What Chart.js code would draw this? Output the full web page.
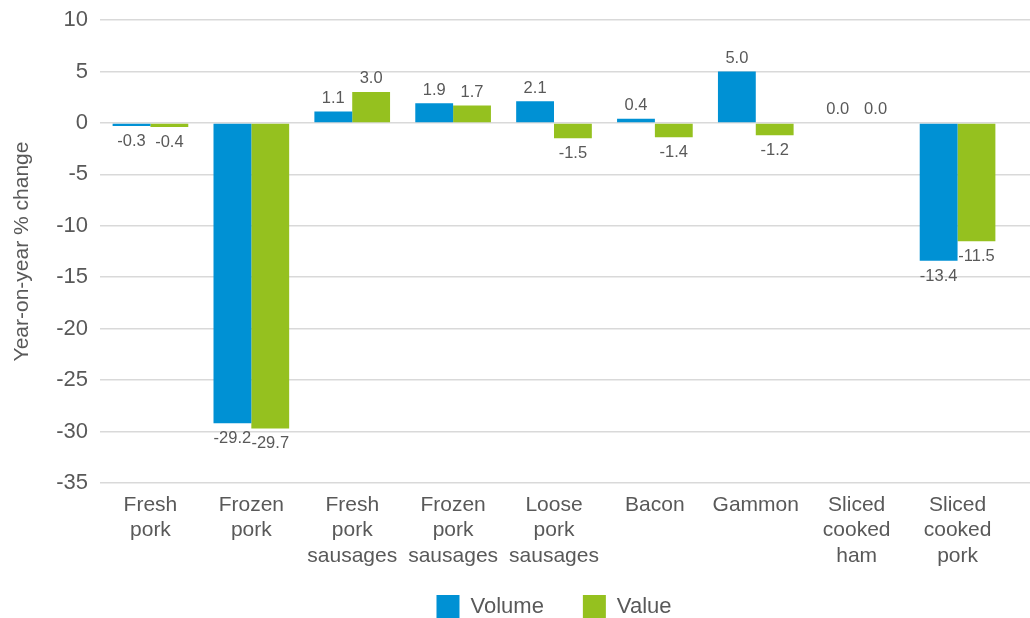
<!DOCTYPE html>
<html>
<head>
<meta charset="utf-8">
<script src="https://cdn.jsdelivr.net/npm/chart.js@4"></script>
<style>
  html, body { margin: 0; padding: 0; background: #fff; }
  #wrap { width: 1030px; height: 618px; }
</style>
</head>
<body>
<div id="wrap"><canvas id="chart"></canvas></div>
<script>
const categories = [
    ['Fresh', 'pork'],
    ['Frozen', 'pork'],
    ['Fresh', 'pork', 'sausages'],
    ['Frozen', 'pork', 'sausages'],
    ['Loose', 'pork', 'sausages'],
    ['Bacon'],
    ['Gammon'],
    ['Sliced', 'cooked', 'ham'],
    ['Sliced', 'cooked', 'pork'],
];
const volume = [-0.3, -29.2, 1.1, 1.9, 2.1, 0.4, 5.0, 0.0, -13.4];
const value = [-0.4, -29.7, 3.0, 1.7, -1.5, -1.4, -1.2, 0.0, -11.5];
const yMin = -35;
const yMax = 10;
const yStep = 5;

const textColor = '#595959';
const gridColor = '#d9d9d9';
const fontFamily = '"Liberation Sans", Arial, sans-serif';

// draws the number next to the end of each bar
const barLabels = {
    id: 'barLabels',
    afterDatasetsDraw(chart) {
        const ctx = chart.ctx;
        ctx.save();
        ctx.font = `16.5px ${fontFamily}`;
        ctx.fillStyle = textColor;
        ctx.textAlign = 'center';
        chart.data.datasets.forEach((ds, i) => {
            chart.getDatasetMeta(i).data.forEach((bar, j) => {
                const v = ds.data[j];
                if (v < 0) {
                    ctx.textBaseline = 'top';
                    ctx.fillText(v.toFixed(1), bar.x, bar.y + 7);
                } else {
                    ctx.textBaseline = 'bottom';
                    ctx.fillText(v.toFixed(1), bar.x, bar.y - 5);
                }
            });
        });
        ctx.restore();
    }
};

new Chart(document.getElementById('chart'), {
    type: 'bar',
    data: {
        labels: categories,
        datasets: [
            { label: 'Volume', data: volume, backgroundColor: '#0091d4' },
            { label: 'Value', data: value, backgroundColor: '#95c11f' },
        ],
    },
    options: {
        responsive: true,
        maintainAspectRatio: false,
        animation: false,
        layout: { padding: { top: 20, right: 0, left: 0, bottom: 0 } },
        datasets: {
            bar: { barPercentage: 1, categoryPercentage: 0.75 },
        },
        scales: {
            x: {
                grid: { display: false, drawTicks: false },
                border: { display: false },
                ticks: {
                    color: textColor,
                    font: { family: fontFamily, size: 21, lineHeight: 1.22 },
                    maxRotation: 0,
                    autoSkip: false,
                    padding: 9,
                },
                afterFit: (scale) => {
                    scale.height = 73;
                    // the 3-line labels run into the legend band, don't clip them
                    scale._computeLabelArea = () => null;
                },
            },
            y: {
                min: yMin,
                max: yMax,
                ticks: {
                    stepSize: yStep,
                    color: textColor,
                    font: { family: fontFamily, size: 22 },
                    padding: 12,
                },
                grid: { color: gridColor, lineWidth: 1.5, drawTicks: false },
                border: { display: false },
                title: {
                    display: true,
                    text: 'Year-on-year % change',
                    color: textColor,
                    font: { family: fontFamily, size: 21 },
                    padding: { top: 10, bottom: 0 },
                },
                afterFit: (scale) => {
                    scale.width = 100;
                    scale.paddingTop = 0;
                    scale.paddingBottom = 0;
                },
            },
            // right-hand axis only used so the gridlines run to the edge
            yRight: {
                position: 'right',
                min: yMin,
                max: yMax,
                ticks: { stepSize: yStep, display: false },
                grid: {
                    color: gridColor,
                    lineWidth: 1.5,
                    drawOnChartArea: false,
                    drawTicks: true,
                    tickLength: 22,
                },
                border: { display: false },
                afterFit: (scale) => {
                    scale.width = 22;
                    scale.paddingTop = 0;
                    scale.paddingBottom = 0;
                },
            },
        },
        plugins: {
            legend: {
                position: 'bottom',
                fullSize: false,
                maxHeight: 62,
                labels: {
                    color: textColor,
                    font: { family: fontFamily, size: 22 },
                    boxWidth: 23,
                    boxHeight: 23,
                    padding: 39,
                },
            },
            tooltip: { enabled: false },
        },
    },
    plugins: [barLabels],
});
</script>
</body>
</html>
